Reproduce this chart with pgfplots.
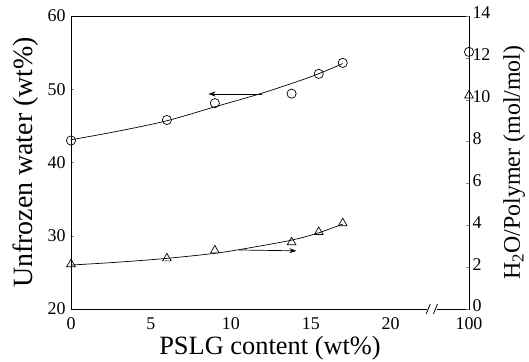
\documentclass[border=0pt]{standalone}
\usepackage{fontspec}
\setmainfont{Liberation Serif}
\usepackage{pgfplots}
\pgfplotsset{compat=1.18}
\usetikzlibrary{arrows.meta}
\begin{document}
\begin{tikzpicture}
\path[use as bounding box] (-71bp,-53bp) rectangle (458bp,309bp);
\begin{axis}[
  at={(0,0)}, anchor=south west,
  width=398bp, height=293bp, scale only axis,
  xmin=0, xmax=24.9, ymin=20, ymax=60,
  xtick={0,5,10,15,20,24.9}, xticklabels={0,5,10,15,20,100},
  ytick={20,30,40,50,60},
  ytick pos=left, xtick pos=bottom,
  tick align=inside,
  major tick length=3bp,
  x tick style={draw=none},
  /pgf/number format/assume math mode=true,
  tick label style={font=\fontsize{18}{18}\selectfont},
  xticklabel style={yshift=-5bp},
  yticklabel style={xshift=-2bp},
  axis line style={line width=0.9pt},
  xlabel={PSLG content (wt\%)},
  ylabel={Unfrozen water (wt\%)},
  xlabel style={font=\fontsize{26.5}{26.5}\selectfont, yshift=0bp},
  ylabel style={font=\fontsize{28}{28}\selectfont, yshift=2bp},
  clip=false,
]
% circles: unfrozen water
\addplot[only marks, mark=o, mark size=4.6bp, line width=0.7pt] coordinates {
  (0,43.0) (6,45.8) (9,48.1) (13.8,49.4) (15.5,52.1) (17,53.6) (24.9,55.1)
};
% fitted curve
\addplot[smooth, line width=0.7pt] coordinates {
  (0,43.1) (3,44.3) (6,45.7) (9,47.6) (12,49.5) (15,51.7) (17,53.5)
};
% arrow pointing to left axis
\addplot[line width=0.7pt, -{Stealth[length=7bp,width=5bp]}] coordinates {(11.95,49.35) (8.6,49.35)};
% axis break
\fill[white] (axis cs:22.3,20) ++(0,-2bp) rectangle (axis cs:22.9,20) ++(0,2bp);
\draw[line width=0.8pt] (axis cs:22.35,20) ++(-2bp,-5bp) -- ++(4bp,10bp);
\draw[line width=0.8pt] (axis cs:22.8,20) ++(-2bp,-5bp) -- ++(4bp,10bp);
\end{axis}
\begin{axis}[
  at={(0,0)}, anchor=south west,
  width=398bp, height=293bp, scale only axis,
  xmin=0, xmax=24.9, ymin=0, ymax=14,
  axis x line=none, axis y line*=right,
  ytick={0,2,...,14},
  tick align=inside,
  major tick length=3bp,
  /pgf/number format/assume math mode=true,
  tick label style={font=\fontsize{18}{18}\selectfont},
  yticklabel style={xshift=0bp, yshift=3bp},
  axis line style={line width=0.9pt},
  ylabel={H\textsubscript{2}O/Polymer (mol/mol)},
  ylabel style={font=\fontsize{24}{24}\selectfont, yshift=-6bp},
  clip=false,
]
\addplot[only marks, mark=triangle, mark size=5bp, line width=0.7pt] coordinates {
  (0,2.14) (6,2.42) (9,2.8) (13.8,3.19) (15.5,3.68) (17,4.1) (24.9,10.2)
};
\addplot[smooth, line width=0.7pt] coordinates {
  (0,2.1) (3,2.24) (6,2.42) (9,2.66) (11,2.9) (13.8,3.29) (15.5,3.64) (17,4.06)
};
\addplot[line width=0.7pt, -{Stealth[length=7bp,width=5bp]}] coordinates {(10.5,2.82) (14.1,2.78)};
\end{axis}
\end{tikzpicture}
\end{document}
